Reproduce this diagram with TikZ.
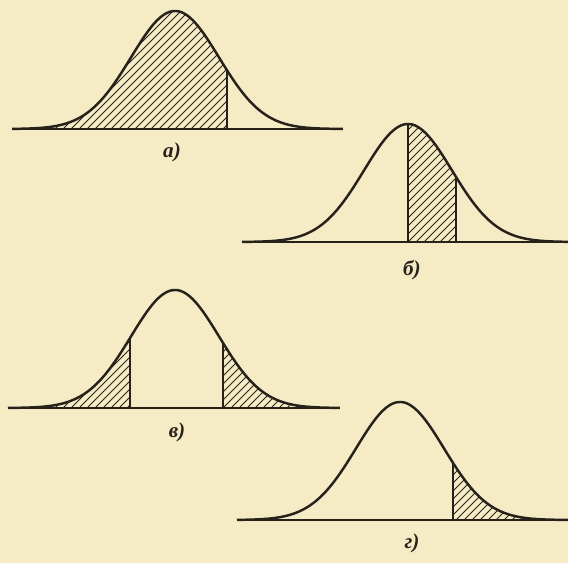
\documentclass[tikz,border=0pt]{standalone}
\usepackage{fontspec}
\setmainfont{Liberation Serif}
\usetikzlibrary{calc}
\definecolor{paper}{RGB}{245,236,198}
\definecolor{ink}{RGB}{38,34,26}

\begin{document}
\begin{tikzpicture}[
        declare function={bell(\t)=2.36*exp(-\t*\t/1.5488);},
        bellline/.style={ink, line width=1.4pt, line join=round},
        axisline/.style={ink, line width=1.2pt},
        cutline/.style={ink, line width=1.1pt},
        hatch/.style={ink, line width=0.55pt},
        caption/.style={font=\large\bfseries\itshape, text=ink, inner sep=1pt}
    ]
        \fill[paper] (0,0) rectangle (11.36,11.26);
        \useasboundingbox (0,0) rectangle (11.36,11.26);

        % a) left part shaded
        \begin{scope}[shift={(3.50,8.68)}]
            \begin{scope}
                \clip (-3.26,0) -- plot[domain=-3.26:1.04, samples=80] (\x,{bell(\x)}) -- (1.04,0) -- cycle;
                \foreach \k in {-40,...,10} \draw[hatch] (\k*0.16,0) -- ++(2.6,2.6);
            \end{scope}
            \draw[axisline] (-3.26,0) -- (3.36,0);
            \draw[bellline] plot[domain=-3.26:3.36, samples=120] (\x,{bell(\x)});
            \draw[cutline] (1.04,0) -- (1.04,{bell(1.04)});
            \node[caption] (capA) at (-0.06,-0.46) {а)};
        \end{scope}

        % b) band right of the peak
        \begin{scope}[shift={(8.16,6.42)}]
            \begin{scope}
                \clip (0,0) -- plot[domain=0:0.96, samples=40] (\x,{bell(\x)}) -- (0.96,0) -- cycle;
                \foreach \k in {-18,...,8} \draw[hatch] (\k*0.16,0) -- ++(2.6,2.6);
            \end{scope}
            \draw[axisline] (-3.32,0) -- (3.20,0);
            \draw[bellline] plot[domain=-3.32:3.20, samples=120] (\x,{bell(\x)});
            \draw[cutline] (0,0) -- (0,{bell(0)});
            \draw[cutline] (0.96,0) -- (0.96,{bell(0.96)});
            \node[caption] (capB) at (0.08,-0.56) {б)};
        \end{scope}

        % v) both tails
        \begin{scope}[shift={(3.50,3.10)}]
            \begin{scope}
                \clip (-3.34,0) -- plot[domain=-3.34:-0.90, samples=60] (\x,{bell(\x)}) -- (-0.90,0) -- cycle;
                \foreach \k in {-40,...,0} \draw[hatch] (\k*0.16,0) -- ++(2.6,2.6);
            \end{scope}
            \begin{scope}
                \clip (0.96,0) -- plot[domain=0.96:3.30, samples=60] (\x,{bell(\x)}) -- (3.30,0) -- cycle;
                \foreach \k in {-12,...,22} \draw[hatch] (\k*0.16,0) -- ++(2.6,2.6);
            \end{scope}
            \draw[axisline] (-3.34,0) -- (3.30,0);
            \draw[bellline] plot[domain=-3.34:3.30, samples=120] (\x,{bell(\x)});
            \draw[cutline] (-0.90,0) -- (-0.90,{bell(-0.90)});
            \draw[cutline] (0.96,0) -- (0.96,{bell(0.96)});
            \node[caption] (capV) at (0.04,-0.48) {в)};
        \end{scope}

        % g) right tail
        \begin{scope}[shift={(8.00,0.86)}]
            \begin{scope}
                \clip (1.06,0) -- plot[domain=1.06:3.36, samples=60] (\x,{bell(\x)}) -- (3.36,0) -- cycle;
                \foreach \k in {-10,...,22} \draw[hatch] (\k*0.16,0) -- ++(2.6,2.6);
            \end{scope}
            \draw[axisline] (-3.26,0) -- (3.36,0);
            \draw[bellline] plot[domain=-3.26:3.36, samples=120] (\x,{bell(\x)});
            \draw[cutline] (1.06,0) -- (1.06,{bell(1.06)});
            \node[caption] (capG) at (0.24,-0.46) {г)};
        \end{scope}
    \end{tikzpicture}
\end{document}
